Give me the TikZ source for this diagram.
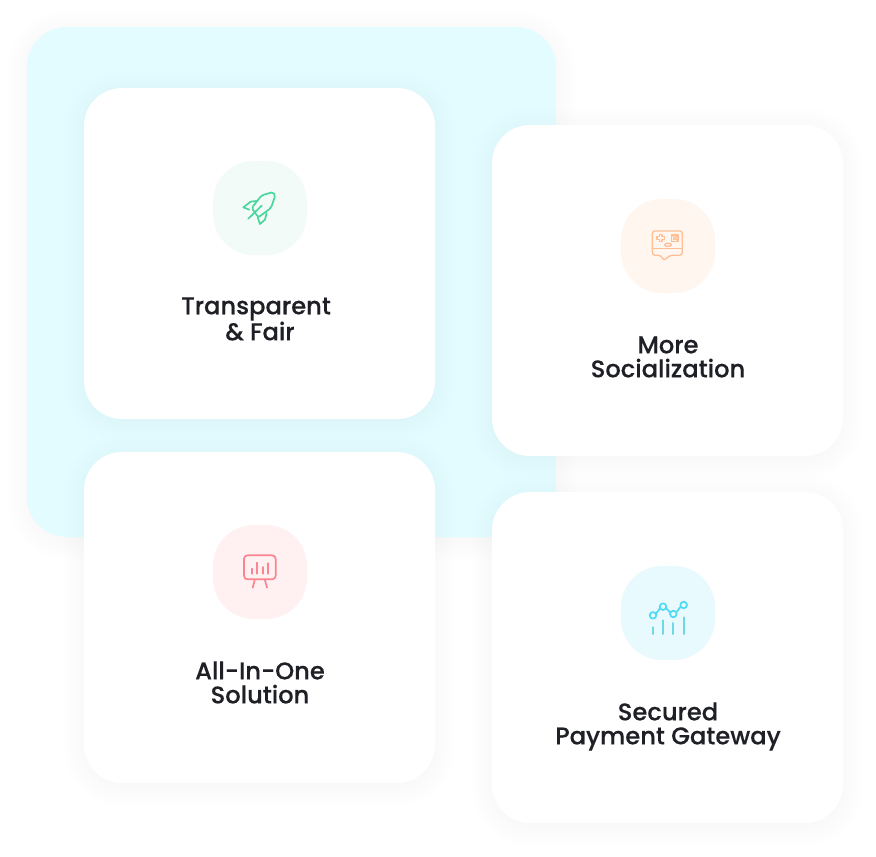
\documentclass[tikz,border=0pt]{standalone}
\usepackage{fontspec}
\setmainfont{Poppins}[UprightFont=* Medium,UprightFeatures={FakeBold=0.25}]
\definecolor{inkc}{HTML}{1F2026}
\definecolor{panelc}{HTML}{E2FCFF}
\definecolor{greenbg}{HTML}{F2FBF8}
\definecolor{greenln}{HTML}{4AD69C}
\definecolor{orangebg}{HTML}{FFF6F0}
\definecolor{orangeln}{HTML}{FFBE94}
\definecolor{redbg}{HTML}{FFF0F1}
\definecolor{redln}{HTML}{FC8491}
\definecolor{bluebg}{HTML}{E9FAFF}
\definecolor{blueln}{HTML}{4EDAF4}
\definecolor{tealln}{HTML}{6FD8E6}
\tikzset{
  cardbox/.style={fill=white,rounded corners=38pt,minimum width=351pt,minimum height=331pt,inner sep=0pt,outer sep=0pt,anchor=north west},
  panelbox/.style={fill=panelc,rounded corners=40pt,minimum width=529pt,minimum height=510pt,inner sep=0pt,outer sep=0pt,anchor=north west},
  tilebox/.style={rounded corners=41pt,minimum width=94pt,minimum height=94pt,inner sep=0pt,outer sep=0pt,anchor=north west},
  cardtext/.style={text=inkc,font=\fontsize{24.2pt}{24pt}\selectfont,align=center,inner sep=0pt},
  iconline/.style={line width=1.7pt,line cap=round,line join=round},
  softlayer/.style={black,opacity=0.0042}
}
\begin{document}
\begin{tikzpicture}[x=1pt,y=-1pt]
\useasboundingbox (0,0) rectangle (876,857);
\fill[white] (0,0) rectangle (876,857);
% panel
\foreach \sz in {0,4,...,20}{\fill[softlayer,rounded corners={(40+\sz)*1pt}] ({27-\sz},{27-\sz+3}) rectangle ({556+\sz},{537+\sz+3});}
\node[panelbox] (panel) at (27,27) {};
% card shadows
\foreach \cx/\cy in {84/88,492/125,84/452,492/492}{
  \foreach \sz in {0,4,...,20}{\fill[softlayer,rounded corners={(38+\sz)*1pt}] ({\cx-\sz},{\cy-\sz+3}) rectangle ({\cx+351+\sz},{\cy+331+\sz+3});}
}
% cards
\node[cardbox] (cardA) at (84,88) {};
\node[cardbox] (cardB) at (492,125) {};
\node[cardbox] (cardC) at (84,452) {};
\node[cardbox] (cardD) at (492,492) {};
% tiles
\node[tilebox,fill=greenbg] (tileA) at (213,161) {};
\node[tilebox,fill=orangebg] (tileB) at (621,199) {};
\node[tilebox,fill=redbg] (tileC) at (213,525) {};
\node[tilebox,fill=bluebg] (tileD) at (621,566) {};
% texts
\node[cardtext] (textA) at (260,319) {Transparent\hspace*{8pt}\\\& Fair};
\node[cardtext] (textB) at (668,357) {More\\Socialization};
\node[cardtext] (textC) at (260,682.5) {All-In-One\\Solution};
\node[cardtext] (textD) at (668,726.5) {Secured\\Payment Gateway};
% rocket
\begin{scope}[shift={(210,158)},x=0.3333pt,y=-0.3333pt,iconline,draw=greenln]
  \draw[rounded corners=2pt] (125,150) -- (155,112) -- (190,102) -- (196,112) -- (183,150) -- (145,178) -- cycle;
  \draw (122,131) -- (100,148) -- (118,155);
  \draw (122,131) -- (140,129);
  \draw (170,165) -- (165,185) -- (150,198) -- (143,178);
  \draw (115,182) -- (155,143);
\end{scope}
% game bubble
\begin{scope}[shift={(618,196)},x=0.3333pt,y=-0.3333pt,line width=1.3pt,line cap=round,line join=round,draw=orangeln]
  \draw[rounded corners=2.5pt] (103,158) -- (103,105) -- (193,105) -- (193,158);
  \draw (103,158) -- (193,158);
  \draw[rounded corners=3pt] (103,158) -- (103,178) -- (130,178) -- (137,195) -- (155,178) -- (193,178) -- (193,158);
  \draw (124,116) -- (132,116) -- (132,122) -- (139,122) -- (139,131) -- (132,131) -- (132,137) -- (124,137) -- (124,131) -- (117,131) -- (117,122) -- (124,122) -- cycle;
  \draw (161,117) rectangle (180,136);
  \draw (165,121) -- (176,132) (176,121) -- (165,132);
  \draw[rounded corners=1.5pt] (140,142) rectangle (160,151);
\end{scope}
% presentation board
\begin{scope}[shift={(210,522)},x=0.3333pt,y=-0.3333pt,iconline,draw=redln]
  \draw[rounded corners=3.5pt] (102,100) rectangle (197,172);
  \draw (126,140) -- (126,155) (142,122) -- (142,155) (158,135) -- (158,155) (174,124) -- (174,155);
  \draw (134,175) -- (128,197) (165,175) -- (171,197);
\end{scope}
% line chart
\begin{scope}[shift={(618,563)},x=0.3333pt,y=-0.3333pt,iconline]
  \draw[tealln,line width=2pt] (105,193) -- (105,213) (135,172) -- (135,213) (166,180) -- (166,213) (197,163) -- (197,213);
  \draw[blueln] (114,152) -- (126,136) (144,136) -- (157,148) (175,148) -- (188,131);
  \draw[blueln] (105,157) circle[radius=3.3pt] (135,131) circle[radius=3.3pt] (166,153) circle[radius=3.3pt] (197,126) circle[radius=3.3pt];
\end{scope}
\end{tikzpicture}
\end{document}
